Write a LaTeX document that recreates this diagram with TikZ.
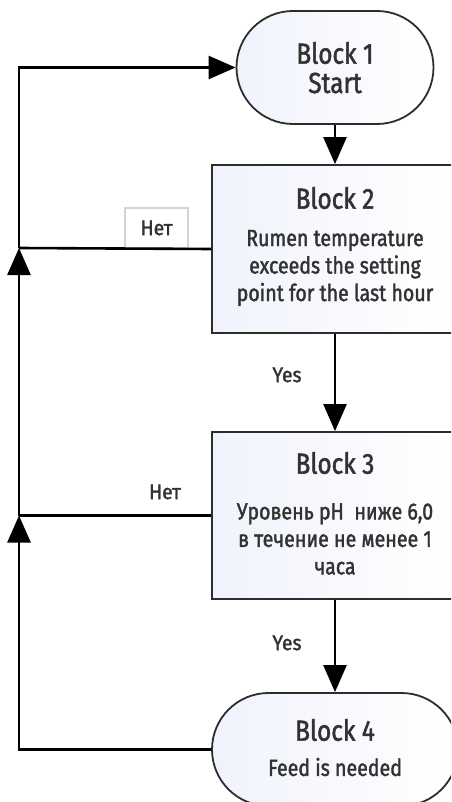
\documentclass[tikz,border=0pt]{standalone}
\usepackage{fontspec}
\setmainfont{Fira Sans}[FakeStretch=0.84, FakeBold=1.6]
\newfontfamily\lblfont{Fira Sans}[FakeStretch=0.92, FakeBold=1.6]
\usetikzlibrary{arrows.meta,calc}
\definecolor{txt}{RGB}{50,50,50}
\definecolor{edge}{RGB}{45,45,45}
\definecolor{boxblue}{RGB}{240,243,252}
\definecolor{lblbox}{RGB}{212,212,212}
\begin{document}
\begin{tikzpicture}[x=1pt,y=-1pt,
 box/.style={draw=edge, line width=1.8pt, left color=boxblue, right color=white, minimum width=246pt, inner sep=0pt},
 proc/.style={box, minimum height=168pt},
 term/.style={box, rounded corners=56.5pt, minimum height=113pt},
 title/.style={text=txt, font=\fontsize{29}{32}\selectfont, inner sep=0pt},
 body/.style={text=txt, font=\fontsize{23.3}{27.5}\selectfont, align=center, inner sep=0pt},
 lbl/.style={text=txt, font=\lblfont\fontsize{21}{23}\selectfont, inner sep=0pt},
 conn/.style={line width=2.6pt, black},
 arr/.style={conn, -{Triangle[width=23pt,length=27pt]}}]
\clip (0,0) rectangle (451,802);
% boxes
\node[term, minimum width=197pt] (b1) at (335,67.5) {};
\node[proc] (b2) at (335,249) {};
\node[proc, minimum height=167pt] (b3) at (335,515.5) {};
\node[term] (b4) at (335,749.5) {};
% texts
\node[title] (b1a) at (335,53) {Block 1};
\node[title] (b1b) at (335,83) {Start};
\node[title] (b2t) at (335,198) {Block 2};
\node[body] (b2b) at (335,268) {Rumen temperature\\exceeds the setting\\point for the last hour};
\node[title] (b3t) at (335,463) {Block 3};
\node[body] (b3b) at (335,539) {Уровень pH\ \ ниже 6,0\\в течение не менее 1\\часа};
\node[title] (b4t) at (335,730) {Block 4};
\node[body] (b4b) at (335,767) {Feed is needed};
% junctions
\coordinate (j1) at (19,67.5);
\coordinate (j2) at (19,248);
\coordinate (j3) at (19,515.5);
\coordinate (j4) at (19,749.5);
% labels
\node[lbl, draw=lblbox, line width=1.4pt, minimum width=63pt, minimum height=40pt, fill=white] (n1) at (156.5,228) {Нет};
\node[lbl] (n2) at (165,492) {Нет};
\node[lbl] (y1) at (287,375) {Yes};
\node[lbl] (y2) at (287,643) {Yes};
% connectors
\draw[arr] (b1) -- (b2);
\draw[arr] (b2) -- (b3);
\draw[arr] (b3) -- (b4);
\draw[arr] (b4.west) -- (j4) -- (j3);
\draw[conn] (b3.west) -- (j3);
\draw[arr] (j3) -- (j2);
\draw[conn] (b2.west) -- (j2);
\draw[arr] (j2) -- (j1) -- (b1.west);
\end{tikzpicture}
\end{document}
